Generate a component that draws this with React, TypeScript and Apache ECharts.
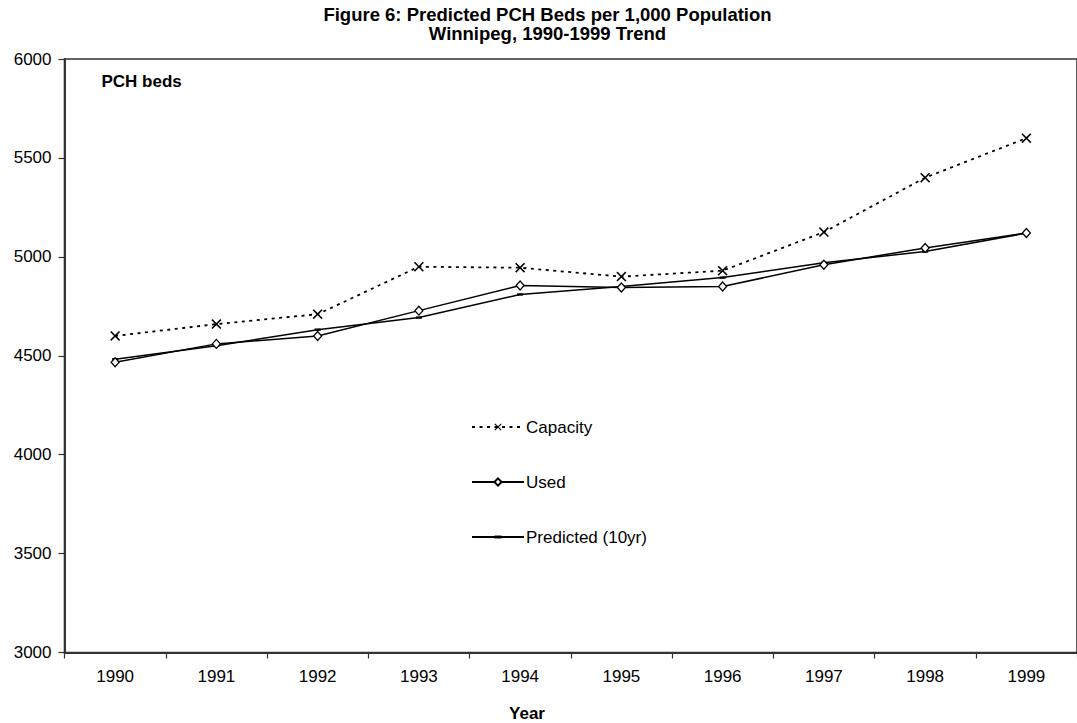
import React, { useEffect, useRef } from "react";
import * as echarts from "echarts";

// Chart data
const years = ["1990", "1991", "1992", "1993", "1994", "1995", "1996", "1997", "1998", "1999"];
const capacity = [4600, 4660, 4710, 4950, 4945, 4900, 4930, 5125, 5400, 5600];
const used = [4467, 4560, 4600, 4728, 4855, 4845, 4850, 4960, 5045, 5120];
const predicted = [4482, 4550, 4632, 4693, 4810, 4850, 4895, 4970, 5027, 5120];

const yMin = 3000;
const yMax = 6000;
const yStep = 500;

const titleLines = ["Figure 6: Predicted PCH Beds per 1,000 Population", "Winnipeg, 1990-1999 Trend"];
const yAxisCaption = "PCH beds";
const xAxisCaption = "Year";
const seriesNames = ["Capacity", "Used", "Predicted (10yr)"];

const FONT = "'Liberation Sans', Arial, Helvetica, sans-serif";
const AXIS_COLOR = "#333";

// thin "x" marker drawn as a filled outline
const crossPath =
  "path://M0,1.1 L1.1,0 L5,3.9 L8.9,0 L10,1.1 L6.1,5 L10,8.9 L8.9,10 L5,6.1 L1.1,10 L0,8.9 L3.9,5 Z";
// short horizontal dash inside a square box (the two moves pin the box size)
const dashPath = "path://M0,0 M10,10 M0,3 L10,3 L10,7 L0,7 Z";

export default function App() {
  const ref = useRef<HTMLDivElement>(null);

  useEffect(() => {
    if (!ref.current) return;
    const chart = echarts.init(ref.current, undefined, { renderer: "svg" });

    chart.setOption({
      animation: false,
      backgroundColor: "#fff",
      textStyle: { fontFamily: FONT },
      grid: {
        left: 64.5,
        top: 59,
        right: -11,
        bottom: 70.5,
        show: true,
        borderColor: AXIS_COLOR,
        borderWidth: 1.6,
        backgroundColor: "transparent",
      },
      graphic: [
        {
          type: "text",
          x: 547.5,
          y: 14.5,
          style: {
            text: titleLines[0],
            font: `bold 18.5px ${FONT}`,
            fill: "#000",
            align: "center",
            verticalAlign: "middle",
          },
        },
        {
          type: "text",
          x: 547.5,
          y: 33.5,
          style: {
            text: titleLines[1],
            font: `bold 18.5px ${FONT}`,
            fill: "#000",
            align: "center",
            verticalAlign: "middle",
          },
        },
        {
          type: "text",
          x: 101.5,
          y: 73,
          style: { text: yAxisCaption, font: `bold 17px ${FONT}`, fill: "#000" },
        },
        {
          type: "text",
          x: 527,
          y: 705,
          style: { text: xAxisCaption, font: `bold 17px ${FONT}`, fill: "#000", align: "center" },
        },
      ],
      legend: {
        orient: "vertical",
        left: 471,
        top: 418.5,
        padding: 0,
        itemWidth: 52,
        itemHeight: 9,
        itemGap: 38,
        data: seriesNames,
        textStyle: { fontFamily: FONT, fontSize: 17, color: "#000", padding: [0, 0, 0, -3] },
      },
      xAxis: {
        type: "category",
        data: years,
        boundaryGap: true,
        axisLine: { lineStyle: { color: AXIS_COLOR, width: 2 } },
        axisTick: { show: true, length: 6, alignWithLabel: false, lineStyle: { color: AXIS_COLOR, width: 1.2 } },
        axisLabel: { color: "#000", fontSize: 17, fontFamily: FONT, margin: 15 },
        splitLine: { show: false },
      },
      yAxis: {
        type: "value",
        min: yMin,
        max: yMax,
        interval: yStep,
        axisLine: { show: true, lineStyle: { color: AXIS_COLOR, width: 2 } },
        axisTick: { show: true, length: 6, lineStyle: { color: AXIS_COLOR, width: 1.2 } },
        axisLabel: {
          color: "#000",
          fontSize: 17,
          fontFamily: FONT,
          margin: 13,
          formatter: (v: number) => String(v),
        },
        splitLine: { show: false },
      },
      series: [
        {
          name: seriesNames[0],
          type: "line",
          data: capacity,
          symbol: crossPath,
          symbolSize: 10,
          itemStyle: { color: "#000" },
          lineStyle: { color: "#000", width: 1.8, type: [3, 4.5] },
          z: 3,
        },
        {
          name: seriesNames[1],
          type: "line",
          data: used,
          symbol: "diamond",
          symbolSize: [8, 9],
          showAllSymbol: true,
          itemStyle: { color: "#fff", borderColor: "#000", borderWidth: 1.3 },
          lineStyle: { color: "#000", width: 1.5 },
          z: 4,
        },
        {
          name: seriesNames[2],
          type: "line",
          data: predicted,
          symbol: dashPath,
          symbolSize: 6,
          itemStyle: { color: "#000" },
          lineStyle: { color: "#000", width: 1.5 },
          z: 2,
        },
      ],
    });

    return () => chart.dispose();
  }, []);

  return (
    <div
      ref={ref}
      style={{ position: "fixed", left: 0, top: 0, width: 1077, height: 723, background: "#fff" }}
    />
  );
}
